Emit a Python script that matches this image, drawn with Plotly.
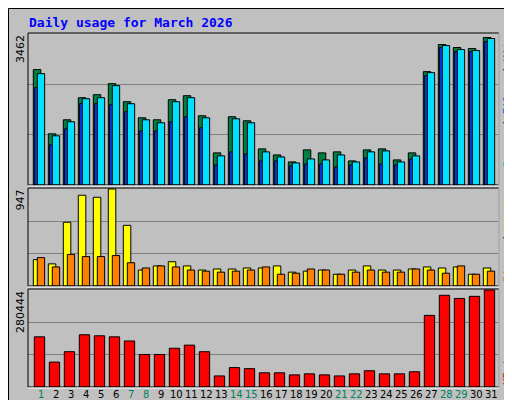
import plotly.graph_objects as go

days = list(range(1, 32))
hits = [2655,1177,1500,2008,2077,2331,1916,1546,1500,1962,2054,1593,739,1570,1477,831,
        692,531,808,739,762,554,808,831,577,739,2608,3231,3162,3139,3393]
files = [2562,1131,1454,1985,2008,2285,1870,1500,1431,1916,2008,1546,670,1523,1431,762,
         646,508,600,577,692,531,762,785,531,670,2585,3208,3116,3093,3370]
pages = [2239,923,1293,1870,1870,1847,1685,1246,1246,1454,1570,1316,462,762,716,554,
         554,439,485,485,415,462,623,485,462,600,2516,3162,3070,3070,3300]
visits = [257,216,622,886,866,947,592,156,196,237,196,156,166,166,176,176,
          196,135,145,156,115,156,196,156,156,166,186,176,186,115,176]
sites = [277,186,308,287,287,297,227,176,196,186,156,145,135,145,156,186,
         115,125,166,156,115,135,156,135,135,166,156,125,196,115,145]
kbytes = [145000,72000,102000,151000,148000,145000,133000,94000,94000,112000,121000,102000,
          32000,56000,53000,41000,41000,35000,38000,35000,32000,38000,47000,38000,38000,44000,
          207000,265000,256000,262000,280444]
weekend = [1,7,8,14,15,21,22,28,29]
max_hits, max_visits, max_kb = 3462, 947, 280444

W, H, L, R, T, B = 512, 400, 20, 21, 25, 21
pw, ph = W - L - R, H - T - B
def px(x): return (x - L) / pw
def py(y): return (H - B - y) / ph

fig = go.Figure()
line = dict(color="black", width=1)
def bar(y, color, off, wid, ax):
    fig.add_trace(go.Bar(x=days, y=y, offset=off, width=wid, marker=dict(color=color, line=line),
                         xaxis="x" if ax == 1 else f"x{ax}", yaxis="y" if ax == 1 else f"y{ax}",
                         showlegend=False, hoverinfo="skip"))
bar(hits, "#008040", 0, 0.5, 1)
bar(pages, "#0040FF", 0.09, 0.2, 1)
bar(files, "#00E0FF", 0.267, 0.49, 1)
bar(visits, "#FFFF00", 0, 0.5, 2)
bar(sites, "#FF8000", 0.267, 0.49, 2)
bar(kbytes, "#FF0000", 0.067, 0.69, 3)

xr = [0.647, 0.647 + pw / 15]
ticktext = [f'<span style="color:#008060">{d}</span>' if d in weekend else str(d) for d in days]
doms = [[py(177), 1], [py(278), py(180)], [0, py(281)]]
tops = [max_hits, max_visits, max_kb]
lay = dict(barmode="overlay", width=W, height=H, margin=dict(l=L, r=R, t=T, b=B, autoexpand=False),
           paper_bgcolor="#C0C0C0", plot_bgcolor="#C0C0C0", showlegend=False)
for i in range(3):
    s = "" if i == 0 else str(i + 1)
    lay["xaxis" + s] = dict(range=xr, showgrid=False, zeroline=False, anchor="y" + s, automargin=False,
                            tickvals=[d + 0.53 for d in days] if i == 2 else [],
                            ticktext=ticktext if i == 2 else None, ticks="", tickangle=0,
                            tickfont=dict(family="DejaVu Sans", size=10, color="black"),
                            showticklabels=(i == 2))
    lay["yaxis" + s] = dict(domain=doms[i], range=[0, tops[i] * 1.01], tickvals=[tops[i] / 3, 2 * tops[i] / 3],
                            showticklabels=False, gridcolor="#808080", gridwidth=1, zeroline=False,
                            anchor="x" + s, automargin=False)
fig.update_layout(**lay)

shapes = []
shapes.append(dict(type="rect", xref="paper", yref="paper", x0=px(0.5), x1=px(511.5), y0=py(399.5), y1=py(0.5),
                   line=dict(color="black", width=1), layer="below"))
shapes.append(dict(type="line", xref="paper", yref="paper", x0=px(508), x1=px(508), y0=py(396), y1=py(4),
                   line=dict(color="#808080", width=4), layer="below"))
shapes.append(dict(type="line", xref="paper", yref="paper", x0=px(4), x1=px(510), y0=py(396), y1=py(396),
                   line=dict(color="#808080", width=4), layer="below"))
for d0, d1 in doms:
    shapes.append(dict(type="rect", xref="paper", yref="paper", x0=0, x1=1, y0=d0, y1=d1,
                       line=dict(color="black", width=1)))
    shapes.append(dict(type="line", xref="paper", yref="paper", x0=px(491), x1=px(491), y0=d0, y1=d1,
                       line=dict(color="white", width=1)))
    shapes.append(dict(type="line", xref="paper", yref="paper", x0=0, x1=1, y0=d0 - 1/ph, y1=d0 - 1/ph,
                       line=dict(color="white", width=1)))
fig.update_layout(shapes=shapes)

mono = "DejaVu Sans Mono"
anns = [dict(text="<b>Daily usage for March 2026</b>", x=px(19), y=py(15), xref="paper", yref="paper",
             xanchor="left", yanchor="middle", showarrow=False, font=dict(family=mono, size=13, color="#0000FF"))]
for (d0, d1), t in zip(doms, ["3462", "947", "280444"]):
    anns.append(dict(text=t, x=px(12), y=d1, xref="paper", yref="paper", xanchor="center", yanchor="top",
                     textangle=-90, showarrow=False, font=dict(family="DejaVu Sans", size=11, color="black")))
rl = ['<span style="color:#00C0C0">Pages</span> / <span style="color:#0060FF">Files</span> / <span style="color:#008060">Hits</span>',
      '<span style="color:#FF8000">Sites</span> / <span style="color:#E0E000">Visits</span>',
      '<span style="color:#FF0000">KBytes</span>']
for (d0, d1), t in zip(doms, rl):
    anns.append(dict(text=t, x=px(499), y=d1 if t != rl[2] else d0, xref="paper", yref="paper",
                     xanchor="center", yanchor="top" if t != rl[2] else "bottom",
                     textangle=-90, showarrow=False, font=dict(family=mono, size=11, color="black")))
fig.update_layout(annotations=anns)
fig.write_html("out.html")
